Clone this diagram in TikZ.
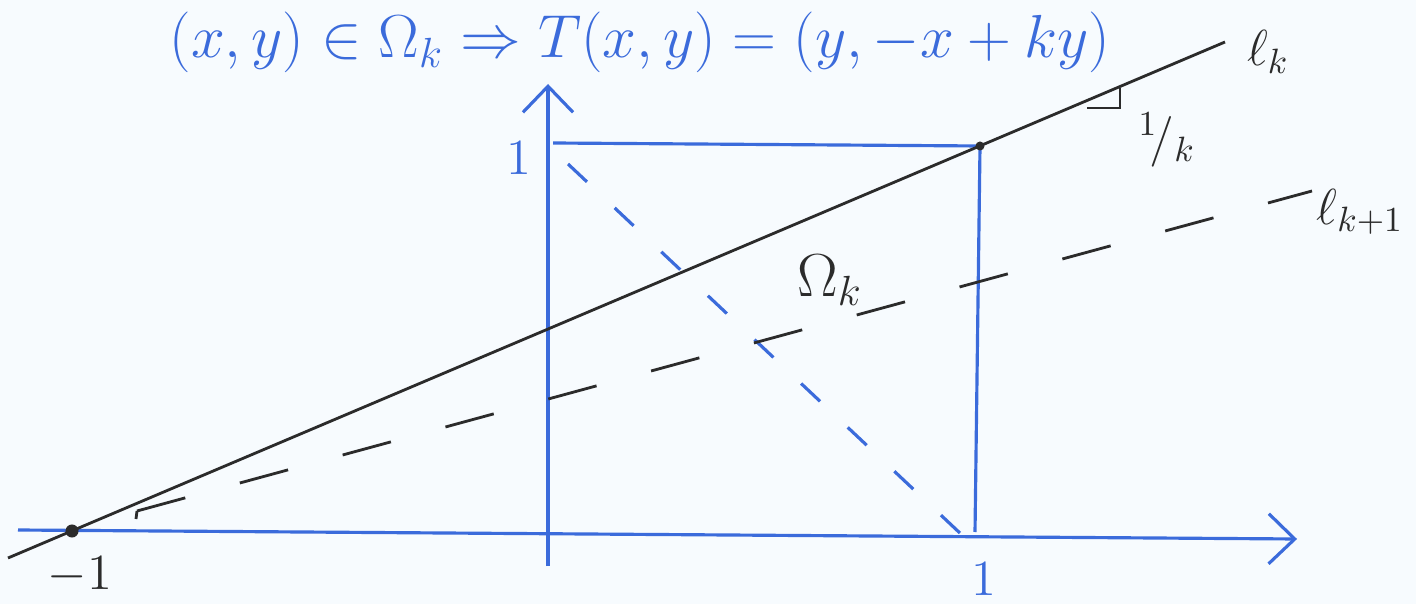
\documentclass[tikz,border=0pt]{standalone}
\usepackage{amsmath,amssymb}
\usepackage{tikz}
\usetikzlibrary{arrows.meta,positioning,calc}
\definecolor{penblue}{HTML}{3B6BDB}
\definecolor{pencil}{HTML}{2B2B2B}
\definecolor{paper}{HTML}{F7FBFE}
\tikzset{
  axisline/.style={draw=penblue, line width=0.9pt, -{Straight Barb[length=2.6mm, width=5mm]}},
  blueline/.style={draw=penblue, line width=0.9pt},
  blackline/.style={draw=pencil, line width=0.8pt},
  bluedash/.style={blueline, dash pattern=on 0.26cm off 0.38cm},
  blackdash/.style={blackline, dash pattern=on 0.5cm off 0.565cm},
  bluelab/.style={text=penblue, font=\Large, inner sep=1pt},
  blacklab/.style={text=pencil, font=\Large, inner sep=1pt},
  inkdot/.style={circle, fill=pencil, inner sep=0pt}
}
\begin{document}
\begin{tikzpicture}[x=0.01cm,y=-0.01cm]
    \fill[paper] (0,0) rectangle (1416,604);
    \useasboundingbox (0,0) rectangle (1416,604);
    \coordinate (xstart) at (18,530);
    \coordinate (xend) at (1297,539);
    \coordinate (ystart) at (548,566);
    \coordinate (yend) at (548,84);
    \coordinate (ytick) at (553,143);
    \coordinate (xtick) at (975,532);
    \coordinate (corner) at (980,146);
    \coordinate (minusone) at (72,531);
    \coordinate (diagtop) at (568,164);
    \coordinate (diagbot) at (962,535);
    \coordinate (lkstart) at (8,558);
    \coordinate (lkend) at (1225,42);
    \coordinate (lnhook) at (136,519);
    \coordinate (lnstart) at (137,511);
    \coordinate (lnend) at (1312,191);
    \coordinate (runstart) at (1087,108);
    \coordinate (runend) at (1120,108);
    \coordinate (riseend) at (1120,88);
    \draw[axisline] (xstart) -- (xend);
    \draw[axisline] (ystart) -- (yend);
    \draw[blueline] (ytick) -- (corner);
    \draw[blueline] (corner) -- (xtick);
    \draw[bluedash] (diagtop) -- (diagbot);
    \draw[blackline] (lkstart) -- (lkend);
    \draw[blackline] (lnhook) -- (lnstart);
    \draw[blackdash] (lnstart) -- (lnend);
    \draw[blackline] (runstart) -- (runend) -- (riseend);
    \node[inkdot, minimum size=1.3mm] (minusdot) at (minusone) {};
    \node[inkdot, minimum size=0.9mm] (cornerdot) at (corner) {};
    \node[bluelab, font=\fontsize{17}{21}\selectfont, anchor=base] (rule) at (640,58)
      {$(x,y)\in\Omega_k \Rightarrow T(x,y)=(y,-x+ky)$};
    \node[bluelab] (yone) at (519,158) {$1$};
    \node[bluelab] (xone) at (984,579) {$1$};
    \node[blacklab] (minuslab) at (80,575) {$-1$};
    \node[blacklab] (lklab) at (1268,52) {$\ell_k$};
    \node[blacklab] (lnlab) at (1360,212) {$\ell_{k+1}$};
    \node[blacklab] (slopelab) at (1167,140) {${}^{1}\!/_{k}$};
    \node[blacklab, font=\LARGE] (omegalab) at (830,280) {$\Omega_k$};
\end{tikzpicture}
\end{document}
